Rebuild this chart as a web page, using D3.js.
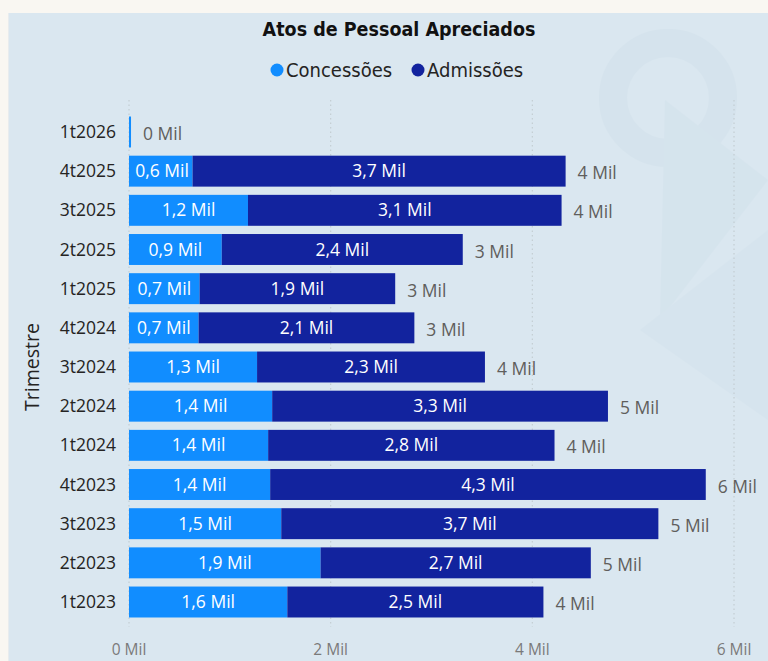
<!DOCTYPE html>
<html>
<head>
<meta charset="utf-8">
<script src="https://cdn.jsdelivr.net/npm/d3@7"></script>
<style>
  body { margin: 0; background: #f9f7f2; }
  svg { display: block; }
</style>
</head>
<body>
<div id="chart"></div>
<script>
// quarters, top to bottom
const trimestres = ["1t2026", "4t2025", "3t2025", "2t2025", "1t2025", "4t2024", "3t2024",
  "2t2024", "1t2024", "4t2023", "3t2023", "2t2023", "1t2023"];
// values in thousands
const concessoes = [0.02, 0.63, 1.18, 0.92, 0.70, 0.69, 1.27, 1.42, 1.38, 1.40, 1.51, 1.90, 1.57];
const admissoes = [0, 3.70, 3.11, 2.39, 1.94, 2.14, 2.26, 3.33, 2.84, 4.32, 3.74, 2.68, 2.54];
const xTicks = [0, 2, 4, 6];
const series = ["Concessões", "Admissões"];
const colors = ["#118dff", "#12239e"];

const width = 768, height = 661;
const condensed = "'DejaVu Sans Condensed', 'Liberation Sans Narrow', sans-serif";

const rows = trimestres.map((t, i) => ({ t, c: concessoes[i], a: admissoes[i] }));

const svg = d3.select("#chart").append("svg")
  .attr("width", width).attr("height", height)
  .style("font-family", "'Open Sans', 'Noto Sans', sans-serif");

// panel background
svg.append("rect").attr("x", 8).attr("y", 13).attr("width", width).attr("height", height)
  .attr("fill", "#dae7f0");
svg.append("line").attr("x1", 8.5).attr("x2", 8.5).attr("y1", 13).attr("y2", height)
  .attr("stroke", "#e8ecee").attr("stroke-width", 1);

// faint watermark logo
const wm = svg.append("g").attr("opacity", 0.18);
wm.append("circle").attr("cx", 668).attr("cy", 98).attr("r", 55)
  .attr("fill", "none").attr("stroke", "#c0d4e0").attr("stroke-width", 28);
wm.append("path").attr("d", "M665,100 L660,320 L768,180 Z").attr("fill", "#c4d8e4");
wm.append("path").attr("d", "M640,330 L768,230 L768,420 Z").attr("fill", "#c8dbe6");

const x = d3.scaleLinear().domain([0, 6]).range([129, 734]);
const y = d3.scaleBand().domain(trimestres)
  .range([112.4, 621.6]).paddingInner(0.21).paddingOuter(0.105);

// gridlines
svg.append("g").selectAll("line").data(xTicks).join("line")
  .attr("x1", d => x(d)).attr("x2", d => x(d))
  .attr("y1", 100).attr("y2", 627)
  .attr("stroke", "#c4cdd3").attr("stroke-width", 1.2)
  .attr("stroke-dasharray", "1.5,3");

// x axis labels
svg.append("g").selectAll("text").data(xTicks).join("text")
  .attr("x", d => x(d)).attr("y", 655)
  .attr("text-anchor", "middle").attr("font-size", 15.5).attr("fill", "#7a7a7a")
  .text(d => d + " Mil");

// y axis labels
svg.append("g").selectAll("text").data(trimestres).join("text")
  .attr("x", 116).attr("y", d => y(d) + y.bandwidth() / 2)
  .attr("dy", "0.35em").attr("text-anchor", "end")
  .attr("font-size", 17.5).attr("fill", "#252423")
  .text(d => d);

svg.append("text")
  .attr("transform", `translate(39,367) rotate(-90)`)
  .attr("text-anchor", "middle").attr("font-size", 19.5).attr("fill", "#252423")
  .text("Trimestre");

const stack = d3.stack().keys(["c", "a"])(rows);
const fmt1 = v => d3.format(".1f")(v).replace(".", ",") + " Mil";

const layers = svg.append("g").selectAll("g").data(stack).join("g")
  .attr("fill", (d, i) => colors[i]);

layers.selectAll("rect").data(d => d).join("rect")
  .attr("x", d => x(d[0]))
  .attr("y", d => y(d.data.t))
  .attr("width", d => Math.max(0, x(d[1]) - x(d[0])))
  .attr("height", y.bandwidth());

// inside labels
layers.each(function (layer) {
  d3.select(this).selectAll("text").data(layer.filter(d => d[1] - d[0] >= 0.3)).join("text")
    .attr("x", d => Math.max((x(d[0]) + x(d[1])) / 2, x(d[0]) + 33))
    .attr("y", d => y(d.data.t) + y.bandwidth() / 2)
    .attr("dy", "0.35em").attr("text-anchor", "middle")
    .attr("font-size", 17.5).attr("fill", "#ffffff")
    .text(d => fmt1(d[1] - d[0]));
});

// totals
svg.append("g").selectAll("text").data(rows).join("text")
  .attr("x", d => x(d.c + d.a) + 12)
  .attr("y", d => y(d.t) + y.bandwidth() / 2 + 2)
  .attr("dy", "0.35em")
  .attr("font-size", 17.5).attr("fill", "#605e5c")
  .text(d => Math.round(d.c + d.a) + " Mil");

// title
svg.append("text").attr("x", 399).attr("y", 36).attr("text-anchor", "middle")
  .attr("font-family", condensed)
  .attr("font-weight", "bold").attr("font-size", 19.5).attr("fill", "#111")
  .text("Atos de Pessoal Apreciados");

// legend
const legend = svg.append("g").attr("font-size", 20).attr("fill", "#252423");
const lx = [277, 418];
series.forEach((s, i) => {
  legend.append("circle").attr("cx", lx[i]).attr("cy", 70).attr("r", 6.5).attr("fill", colors[i]);
  legend.append("text").attr("x", lx[i] + 9).attr("y", 70).attr("dy", "0.35em")
    .attr("font-family", condensed)
    .text(s);
});
</script>
</body>
</html>
